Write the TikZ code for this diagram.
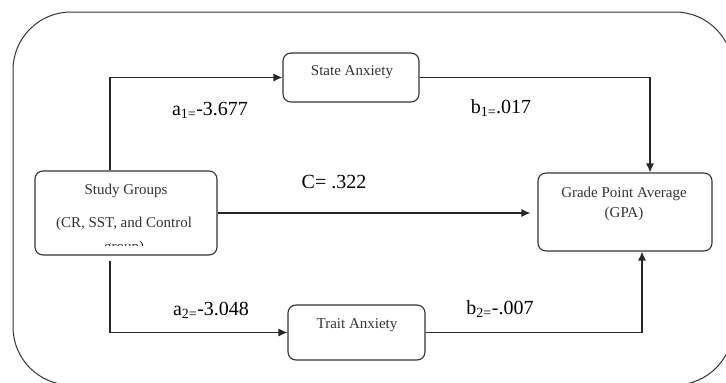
\documentclass[tikz,border=0pt]{standalone}
\usepackage{fontspec}
\setmainfont{Liberation Serif}
\usetikzlibrary{arrows.meta, positioning, calc}

\tikzset{
  box/.style={draw=black!80, line width=1.1pt, rounded corners=8pt, inner sep=0pt},
  boxtxt/.style={inner sep=0pt, text=black!80, font=\fontsize{15}{20}\selectfont, align=center},
  coef/.style={inner sep=0pt, font=\fontsize{20}{24}\selectfont},
  arr/.style={draw=black!85, line width=1.3pt, -{Latex[length=9pt,width=8pt]}},
  lnk/.style={draw=black!85, line width=1.2pt}
}

\begin{document}
\begin{tikzpicture}[x=1pt,y=-1pt]
        \useasboundingbox (0,0) rectangle (726,383);
        \clip (0,0) rectangle (726,383);
        % outer frame
        \draw[black!80, line width=1pt, rounded corners=58pt] (13,12) rectangle (733,385);
        % boxes
        \node[box, minimum width=182pt, minimum height=84pt] (sg) at (126,213) {};
        \node[box, minimum width=136pt, minimum height=49pt] (state) at (351,77.5) {};
        \node[box, minimum width=137pt, minimum height=55pt] (trait) at (356.5,332.5) {};
        \node[box, minimum width=174pt, minimum height=78pt] (gpa) at (625,212) {};
        % box texts
        \node[boxtxt] (sg_t1) at (126,191) {Study Groups};
        \begin{scope}
          \clip (35,171) rectangle (217,245.5);
          \node[boxtxt] (sg_t2) at (124,224) {(CR, SST, and Control};
          \node[boxtxt] (sg_t3) at (124,248) {group)};
        \end{scope}
        \node[boxtxt] (state_t) at (352,72) {State Anxiety};
        \node[boxtxt] (trait_t) at (357,325) {Trait Anxiety};
        \node[boxtxt] (gpa_t1) at (624,194) {Grade Point Average};
        \node[boxtxt] (gpa_t2) at (624,214) {(GPA)};
        % paths
        \draw[arr] (sg.north -| 110,0) |- (state.west);
        \draw[arr] ([yshift=-5pt]sg.south -| 110,0) |- (trait.west);
        \draw[arr, shorten >=7pt] (sg.east) -- (sg.east -| gpa.west);
        \draw[arr] (state.east) -| (gpa.north -| 650,0);
        \draw[arr] (trait.east) -| (gpa.south -| 642,0);
        % coefficients
        \node[coef] (a1) at (210,110) {a\textsubscript{1=}-3.677};
        \node[coef] (b1) at (501,108) {b\textsubscript{1=}.017};
        \node[coef] (c) at (334,182) {C= .322};
        \node[coef] (a2) at (211,310) {a\textsubscript{2=}-3.048};
        \node[coef] (b2) at (500,309) {b\textsubscript{2=}-.007};
\end{tikzpicture}
\end{document}
